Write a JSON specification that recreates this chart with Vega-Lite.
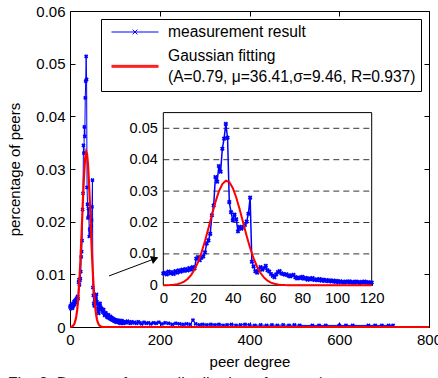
{
  "$schema": "https://vega.github.io/schema/vega-lite/v6.json",
  "width": 359,
  "height": 316,
  "autosize": {"type": "none"},
  "padding": {"left": 70, "top": 11, "right": 9, "bottom": 51},
  "background": "white",
  "title": {"text": "Fig. 3. Degree of peer: distribution of peers (a", "orient": "bottom", "anchor": "start", "offset": 7, "dx": 0, "font": "Liberation Sans", "fontSize": 16, "fontWeight": "normal", "color": "#222222"},
  "config": {
    "font": "Liberation Sans",
    "view": {"stroke": "black", "strokeWidth": 1},
    "axis": {"labelFont": "Liberation Sans", "labelFontSize": 15, "labelColor": "black", "titleFont": "Liberation Sans", "titleFontSize": 15, "titleFontWeight": "normal", "titleColor": "black", "domainColor": "black", "tickColor": "black", "grid": false, "zindex": 1, "labelOverlap": false, "labelFlush": false}
  },
  "datasets": {
    "measurement": [
      {"degree": 0, "pct": 0.0038}, {"degree": 1, "pct": 0.0040}, {"degree": 2, "pct": 0.0035}, {"degree": 3, "pct": 0.0044}, {"degree": 4, "pct": 0.0038}, {"degree": 5, "pct": 0.0042}, {"degree": 6, "pct": 0.0036}, {"degree": 7, "pct": 0.0045}, {"degree": 8, "pct": 0.0040}, {"degree": 9, "pct": 0.0048}, {"degree": 10, "pct": 0.0043}, {"degree": 11, "pct": 0.0050}, {"degree": 12, "pct": 0.0046}, {"degree": 13, "pct": 0.0052}, {"degree": 14, "pct": 0.0047}, {"degree": 15, "pct": 0.0055}, {"degree": 16, "pct": 0.0050}, {"degree": 17, "pct": 0.0058}, {"degree": 18, "pct": 0.0054}, {"degree": 19, "pct": 0.0085}, {"degree": 20, "pct": 0.0090}, {"degree": 21, "pct": 0.0080}, {"degree": 22, "pct": 0.0088}, {"degree": 23, "pct": 0.0092}, {"degree": 24, "pct": 0.0105}, {"degree": 25, "pct": 0.0133}, {"degree": 26, "pct": 0.0143}, {"degree": 27, "pct": 0.0164}, {"degree": 28, "pct": 0.0223}, {"degree": 29, "pct": 0.0254}, {"degree": 30, "pct": 0.0345}, {"degree": 31, "pct": 0.0330}, {"degree": 32, "pct": 0.0380}, {"degree": 33, "pct": 0.0362}, {"degree": 34, "pct": 0.0435}, {"degree": 35, "pct": 0.0467}, {"degree": 36, "pct": 0.0514}, {"degree": 37, "pct": 0.0470}, {"degree": 38, "pct": 0.0265}, {"degree": 39, "pct": 0.0233}, {"degree": 40, "pct": 0.0207}, {"degree": 41, "pct": 0.0225}, {"degree": 42, "pct": 0.0210}, {"degree": 43, "pct": 0.0172}, {"degree": 44, "pct": 0.0186}, {"degree": 45, "pct": 0.0180}, {"degree": 46, "pct": 0.0186}, {"degree": 47, "pct": 0.0192}, {"degree": 48, "pct": 0.0203}, {"degree": 49, "pct": 0.0228}, {"degree": 50, "pct": 0.0279}, {"degree": 51, "pct": 0.0075}, {"degree": 52, "pct": 0.0060}, {"degree": 53, "pct": 0.0045}, {"degree": 54, "pct": 0.0040}, {"degree": 55, "pct": 0.0052}, {"degree": 56, "pct": 0.0058}, {"degree": 57, "pct": 0.0050}, {"degree": 58, "pct": 0.0055}, {"degree": 59, "pct": 0.0062}, {"degree": 60, "pct": 0.0048}, {"degree": 61, "pct": 0.0044}, {"degree": 62, "pct": 0.0036}, {"degree": 63, "pct": 0.0030}, {"degree": 64, "pct": 0.0026}, {"degree": 65, "pct": 0.0035}, {"degree": 66, "pct": 0.0042}, {"degree": 67, "pct": 0.0045}, {"degree": 68, "pct": 0.0038}, {"degree": 69, "pct": 0.0036}, {"degree": 70, "pct": 0.0034}, {"degree": 71, "pct": 0.0035}, {"degree": 72, "pct": 0.0031}, {"degree": 73, "pct": 0.0028}, {"degree": 74, "pct": 0.0032}, {"degree": 75, "pct": 0.0033}, {"degree": 76, "pct": 0.0026}, {"degree": 77, "pct": 0.0022}, {"degree": 78, "pct": 0.0025}, {"degree": 79, "pct": 0.0023}, {"degree": 80, "pct": 0.0027}, {"degree": 81, "pct": 0.0021}, {"degree": 82, "pct": 0.0024}, {"degree": 83, "pct": 0.0018}, {"degree": 84, "pct": 0.0022}, {"degree": 85, "pct": 0.0019}, {"degree": 86, "pct": 0.0023}, {"degree": 87, "pct": 0.0017}, {"degree": 88, "pct": 0.0019}, {"degree": 89, "pct": 0.0016}, {"degree": 90, "pct": 0.0020}, {"degree": 91, "pct": 0.0015}, {"degree": 92, "pct": 0.0018}, {"degree": 93, "pct": 0.0014}, {"degree": 94, "pct": 0.0017}, {"degree": 95, "pct": 0.0013}, {"degree": 96, "pct": 0.0016}, {"degree": 97, "pct": 0.0012}, {"degree": 98, "pct": 0.0015}, {"degree": 99, "pct": 0.0011}, {"degree": 100, "pct": 0.0014}, {"degree": 101, "pct": 0.0010}, {"degree": 102, "pct": 0.0013}, {"degree": 103, "pct": 0.0011}, {"degree": 104, "pct": 0.0009}, {"degree": 105, "pct": 0.0012}, {"degree": 106, "pct": 0.0010}, {"degree": 107, "pct": 0.0013}, {"degree": 108, "pct": 0.0009}, {"degree": 109, "pct": 0.0011}, {"degree": 110, "pct": 0.0008}, {"degree": 111, "pct": 0.0012}, {"degree": 112, "pct": 0.0010}, {"degree": 113, "pct": 0.0007}, {"degree": 114, "pct": 0.0011}, {"degree": 115, "pct": 0.0009}, {"degree": 116, "pct": 0.0012}, {"degree": 117, "pct": 0.0008}, {"degree": 118, "pct": 0.0010}, {"degree": 119, "pct": 0.0007}, {"degree": 120, "pct": 0.0009},
      {"degree": 122, "pct": 0.0010}, {"degree": 125, "pct": 0.0008}, {"degree": 128, "pct": 0.0011}, {"degree": 131, "pct": 0.0009}, {"degree": 134, "pct": 0.0007}, {"degree": 137, "pct": 0.0010}, {"degree": 140, "pct": 0.0008}, {"degree": 144, "pct": 0.0009}, {"degree": 148, "pct": 0.0007}, {"degree": 152, "pct": 0.0010}, {"degree": 156, "pct": 0.0008}, {"degree": 160, "pct": 0.0006}, {"degree": 165, "pct": 0.0009}, {"degree": 170, "pct": 0.0007}, {"degree": 175, "pct": 0.0008}, {"degree": 180, "pct": 0.0006}, {"degree": 186, "pct": 0.0008}, {"degree": 192, "pct": 0.0007}, {"degree": 198, "pct": 0.0009}, {"degree": 205, "pct": 0.0006}, {"degree": 212, "pct": 0.0008}, {"degree": 220, "pct": 0.0007}, {"degree": 228, "pct": 0.0005}, {"degree": 236, "pct": 0.0007}, {"degree": 244, "pct": 0.0006}, {"degree": 252, "pct": 0.0005}, {"degree": 260, "pct": 0.0006}, {"degree": 268, "pct": 0.0005}, {"degree": 274, "pct": 0.0013}, {"degree": 280, "pct": 0.0006}, {"degree": 288, "pct": 0.0004}, {"degree": 296, "pct": 0.0005}, {"degree": 305, "pct": 0.0004}, {"degree": 314, "pct": 0.0005}, {"degree": 323, "pct": 0.0004}, {"degree": 332, "pct": 0.0005}, {"degree": 341, "pct": 0.0003}, {"degree": 350, "pct": 0.0004}, {"degree": 360, "pct": 0.0005}, {"degree": 370, "pct": 0.0003}, {"degree": 380, "pct": 0.0004}, {"degree": 390, "pct": 0.0005}, {"degree": 400, "pct": 0.0004}, {"degree": 412, "pct": 0.0003}, {"degree": 425, "pct": 0.0004}, {"degree": 438, "pct": 0.0003}, {"degree": 450, "pct": 0.0004}, {"degree": 462, "pct": 0.0003}, {"degree": 475, "pct": 0.0004}, {"degree": 488, "pct": 0.0003}, {"degree": 500, "pct": 0.0004}, {"degree": 512, "pct": 0.0003}, {"degree": 540, "pct": 0.0003}, {"degree": 555, "pct": 0.0003}, {"degree": 570, "pct": 0.0003}, {"degree": 600, "pct": 0.0003}, {"degree": 615, "pct": 0.0003}, {"degree": 630, "pct": 0.0003}, {"degree": 665, "pct": 0.0003}, {"degree": 680, "pct": 0.0003}, {"degree": 695, "pct": 0.0003}, {"degree": 710, "pct": 0.0003}, {"degree": 720, "pct": 0.0003}
    ],
    "gaussian": [
      {"degree": 0, "pct": 0.00002}, {"degree": 2, "pct": 0.000045}, {"degree": 4, "pct": 0.000094}, {"degree": 6, "pct": 0.00019}, {"degree": 8, "pct": 0.000367}, {"degree": 10, "pct": 0.000676}, {"degree": 12, "pct": 0.001194}, {"degree": 14, "pct": 0.002014}, {"degree": 16, "pct": 0.00325}, {"degree": 18, "pct": 0.005015}, {"degree": 20, "pct": 0.0074}, {"degree": 22, "pct": 0.01044}, {"degree": 24, "pct": 0.01409}, {"degree": 26, "pct": 0.01819}, {"degree": 28, "pct": 0.02244}, {"degree": 30, "pct": 0.02649}, {"degree": 32, "pct": 0.02989}, {"degree": 34, "pct": 0.03226}, {"degree": 36, "pct": 0.03329}, {"degree": 38, "pct": 0.03285}, {"degree": 40, "pct": 0.031}, {"degree": 42, "pct": 0.02798}, {"degree": 44, "pct": 0.02415}, {"degree": 46, "pct": 0.01993}, {"degree": 48, "pct": 0.01573}, {"degree": 50, "pct": 0.01187}, {"degree": 52, "pct": 0.00857}, {"degree": 54, "pct": 0.005915}, {"degree": 56, "pct": 0.003905}, {"degree": 58, "pct": 0.002464}, {"degree": 60, "pct": 0.001487}, {"degree": 62, "pct": 0.000859}, {"degree": 64, "pct": 0.000474}, {"degree": 66, "pct": 0.00025}, {"degree": 68, "pct": 0.000126}, {"degree": 70, "pct": 0.000061}, {"degree": 72, "pct": 0.000028}, {"degree": 76, "pct": 0}, {"degree": 80, "pct": 0}, {"degree": 100, "pct": 0}, {"degree": 120, "pct": 0}, {"degree": 200, "pct": 0}, {"degree": 400, "pct": 0}, {"degree": 800, "pct": 0}
    ]
  },
  "layer": [
    {
      "layer": [
        {
          "data": {"name": "measurement"},
          "mark": {"type": "line", "strokeWidth": 1},
          "encoding": {
            "x": {"field": "degree", "type": "quantitative", "scale": {"domain": [0, 800], "nice": false}, "axis": {"orient": "bottom", "values": [0, 200, 400, 600, 800], "tickSize": -5, "labelPadding": 10, "domain": false, "title": "peer degree", "titlePadding": 7}},
            "y": {"field": "pct", "type": "quantitative", "scale": {"domain": [0, 0.06], "nice": false}, "axis": {"orient": "left", "values": [0, 0.01, 0.02, 0.03, 0.04, 0.05, 0.06], "format": "~g", "tickSize": -5, "labelPadding": 10, "domain": false, "title": "percentage of peers", "titlePadding": 13}},
            "color": {"datum": "measurement result", "type": "nominal", "scale": {"domain": ["measurement result", "Gaussian fitting"], "range": ["#0000ff", "#ff0000"]},
              "legend": {"title": null, "orient": "top-right", "offset": 8, "padding": 5, "strokeColor": "black", "fillColor": "white", "cornerRadius": 0, "labelFont": "Liberation Sans", "labelFontSize": 15.6, "labelColor": "black", "labelLimit": 400, "symbolSize": 2209, "symbolStrokeWidth": 1, "labelOffset": 9, "rowPadding": 6.5, "symbolOffset": 5,
                "labelExpr": "datum.label == 'Gaussian fitting' ? ['Gaussian fitting', '(A=0.79, μ=36.41,σ=9.46, R=0.937)'] : datum.label",
                "encode": {
                  "symbols": {"update": {"y": {"value": 8}, "shape": {"signal": "datum.value == 'Gaussian fitting' ? 'M-1,0.42H1M-1,0.46H1M-1,0.5H1' : 'M-1,0H1M-0.1,-0.1L0.1,0.1M-0.1,0.1L0.1,-0.1'"}, "stroke": {"signal": "datum.value == 'Gaussian fitting' ? '#ff0000' : '#0000ff'"}, "fill": {"value": "transparent"}}},
                  "labels": {"update": {"y": {"value": 8}, "lineHeight": {"value": 21.6}}}
                }
              }
            }
          }
        },
        {
          "data": {"name": "measurement"},
          "mark": {"type": "point", "shape": "cross", "angle": 45, "filled": true, "size": 18, "color": "#0000ff", "opacity": 1},
          "encoding": {
            "x": {"field": "degree", "type": "quantitative"},
            "y": {"field": "pct", "type": "quantitative"}
          }
        },
        {
          "data": {"name": "gaussian"},
          "mark": {"type": "line", "strokeWidth": 2.2},
          "encoding": {
            "x": {"field": "degree", "type": "quantitative"},
            "y": {"field": "pct", "type": "quantitative"},
            "color": {"datum": "Gaussian fitting", "type": "nominal"}
          }
        }
      ]
    },
    {
      "data": {"values": [{}]},
      "layer": [
        {
          "mark": {"type": "rule", "color": "black", "strokeWidth": 1},
          "encoding": {
            "x": {"datum": 87, "type": "quantitative", "scale": {"domain": [0, 800], "nice": false}, "axis": {"orient": "top", "values": [0, 200, 400, 600, 800], "labels": false, "tickSize": -5, "domain": false, "title": null}},
            "x2": {"datum": 189},
            "y": {"datum": 0.0097, "type": "quantitative", "scale": {"domain": [0, 0.06], "nice": false}, "axis": {"orient": "right", "values": [0, 0.01, 0.02, 0.03, 0.04, 0.05, 0.06], "labels": false, "tickSize": -5, "domain": false, "title": null}},
            "y2": {"datum": 0.01297}
          }
        },
        {
          "mark": {"type": "point", "shape": "triangle-right", "filled": true, "color": "black", "size": 70, "angle": 339, "opacity": 1},
          "encoding": {
            "x": {"datum": 189, "type": "quantitative"},
            "y": {"datum": 0.01297, "type": "quantitative"}
          }
        }
      ]
    },
    {
      "layer": [
        {
          "data": {"values": [{}]},
          "mark": {"type": "rect", "fill": "white", "stroke": "black", "strokeWidth": 1},
          "encoding": {
            "x": {"datum": 0, "type": "quantitative", "scale": {"domain": [0, 120], "range": [93.3, 301.7], "nice": false}, "axis": {"orient": "bottom", "offset": -41.7, "values": [0, 20, 40, 60, 80, 100, 120], "tickSize": -4, "labelPadding": 9, "domain": false, "title": null}},
            "x2": {"datum": 120},
            "y": {"datum": 0, "type": "quantitative", "scale": {"domain": [0, 0.055], "range": [274.3, 101.6], "nice": false}, "axis": {"orient": "left", "offset": -93.3, "values": [0, 0.01, 0.02, 0.03, 0.04, 0.05], "format": "~g", "tickSize": -4, "labelPadding": 10, "labelFontSize": 14.5, "domain": false, "title": null}},
            "y2": {"datum": 0.055}
          }
        },
        {
          "data": {"values": [{"level": 0.01}, {"level": 0.02}, {"level": 0.03}, {"level": 0.04}, {"level": 0.05}]},
          "mark": {"type": "rule", "color": "black", "strokeWidth": 0.8, "strokeDash": [6, 4]},
          "encoding": {
            "x": {"datum": 0, "type": "quantitative"},
            "x2": {"datum": 120},
            "y": {"field": "level", "type": "quantitative"}
          }
        },
        {
          "data": {"name": "measurement"},
          "transform": [{"filter": "datum.degree <= 120"}],
          "mark": {"type": "line", "strokeWidth": 1.5, "color": "#0000ff"},
          "encoding": {
            "x": {"field": "degree", "type": "quantitative"},
            "y": {"field": "pct", "type": "quantitative"}
          }
        },
        {
          "data": {"name": "measurement"},
          "transform": [{"filter": "datum.degree <= 120"}],
          "mark": {"type": "point", "shape": "cross", "angle": 45, "filled": true, "size": 22, "color": "#0000ff", "opacity": 1},
          "encoding": {
            "x": {"field": "degree", "type": "quantitative"},
            "y": {"field": "pct", "type": "quantitative"}
          }
        },
        {
          "data": {"name": "gaussian"},
          "transform": [{"filter": "datum.degree <= 120"}],
          "mark": {"type": "line", "strokeWidth": 2, "color": "#ff0000"},
          "encoding": {
            "x": {"field": "degree", "type": "quantitative"},
            "y": {"field": "pct", "type": "quantitative"}
          }
        }
      ]
    }
  ],
  "resolve": {"scale": {"x": "independent", "y": "independent"}, "axis": {"x": "independent", "y": "independent"}}
}
